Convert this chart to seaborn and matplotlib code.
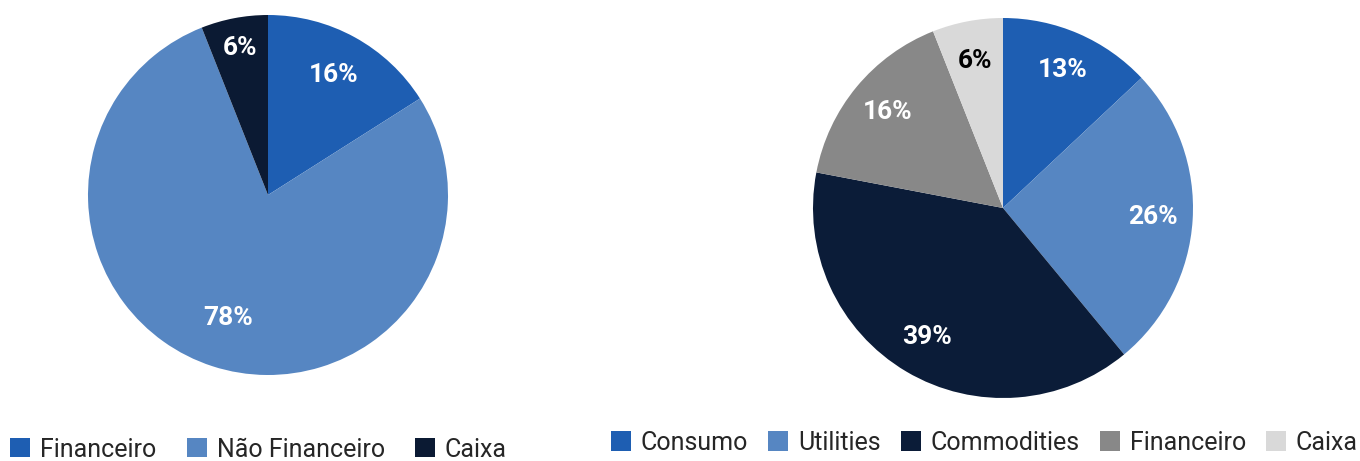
import matplotlib
matplotlib.use("Agg")
import matplotlib.pyplot as plt
import seaborn as sns

sns.set_theme(style="white")
plt.rcParams['font.family'] = ['Roboto', 'DejaVu Sans']

left_labels = ["Financeiro", "Não Financeiro", "Caixa"]
left_values = [16, 78, 6]
left_colors = ["#1E5EB2", "#5686C2", "#0B1A33"]

right_labels = ["Consumo", "Utilities", "Commodities", "Financeiro", "Caixa"]
right_values = [13, 26, 39, 16, 6]
right_colors = ["#1E5EB2", "#5686C2", "#0B1C38", "#888888", "#D9D9D9"]
right_text_colors = ["white", "white", "white", "white", "black"]

W, H = 1360, 461
fig = plt.figure(figsize=(W / 100, H / 100), dpi=100)

def place(cx, cy, r):
    return fig.add_axes([(cx - r) / W, (H - cy - r) / H, 2 * r / W, 2 * r / H])

tp = dict(color="white", fontsize=19, fontweight="bold")

axL = place(268, 195, 180)
wedges, texts, autos = axL.pie(left_values, colors=left_colors, startangle=90,
                               counterclock=False, autopct='%d%%', pctdistance=0.78,
                               wedgeprops=dict(linewidth=0), textprops=tp)
for t, d in zip(autos, [0.76, 0.72, 0.83]):
    x, y = t.get_position()
    s = d / 0.78
    t.set_position((x * s, y * s))
axL.set_xlim(-1, 1); axL.set_ylim(-1, 1)
axL.set_aspect('equal')

axR = place(1003, 208, 190)
wedges2, texts2, autos2 = axR.pie(right_values, colors=right_colors, startangle=90,
                                  counterclock=False, autopct='%d%%', pctdistance=0.79,
                                  wedgeprops=dict(linewidth=0), textprops=tp)
for t, c in zip(autos2, right_text_colors):
    t.set_color(c)
axR.set_xlim(-1, 1); axR.set_ylim(-1, 1)
axR.set_aspect('equal')

fig.legend(wedges, left_labels, loc="lower left", bbox_to_anchor=(-0.009, -0.05),
           ncol=3, frameon=False, fontsize=18, handlelength=0.8, handleheight=0.8,
           handletextpad=0.4, columnspacing=1.2)
fig.legend(wedges2, right_labels, loc="lower right", bbox_to_anchor=(1.015, -0.035),
           ncol=5, frameon=False, fontsize=18, handlelength=0.8, handleheight=0.8,
           handletextpad=0.4, columnspacing=0.8)

fig.savefig("out.png", dpi=100)
